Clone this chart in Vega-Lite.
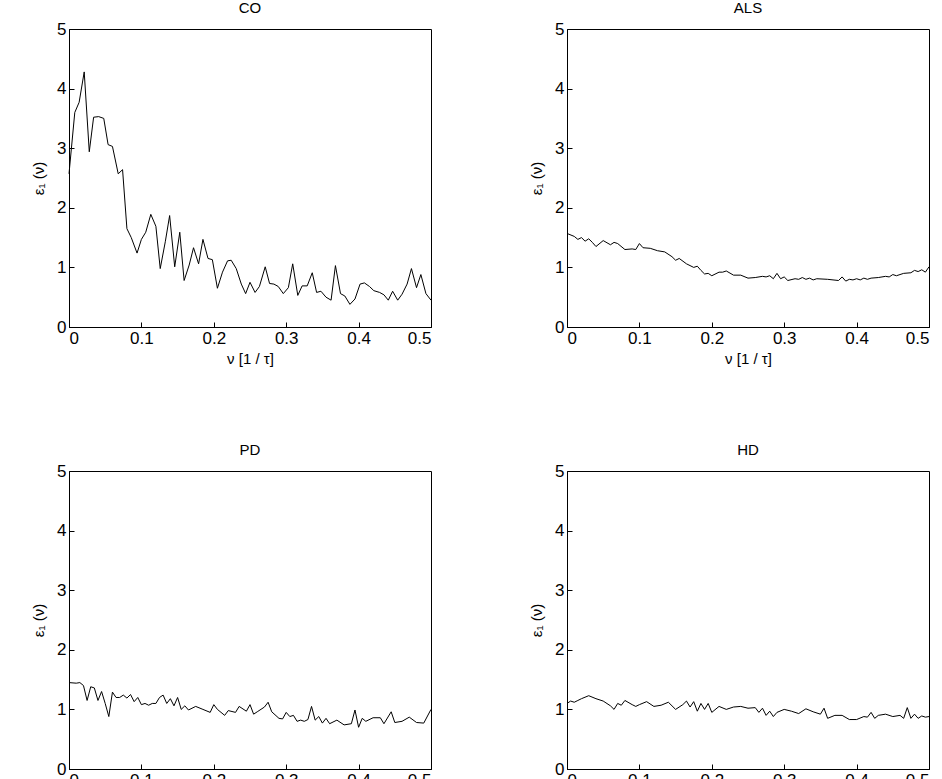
{
  "$schema": "https://vega.github.io/schema/vega-lite/v6.json",
  "padding": {"left": 31, "top": 0, "right": 0, "bottom": 0},
  "data": {
    "values": [
      {"p":"CO","x":0,"y":2.57},{"p":"CO","x":0.008,"y":3.6},{"p":"CO","x":0.014,"y":3.77},{"p":"CO","x":0.021,"y":4.28},{"p":"CO","x":0.028,"y":2.94},{"p":"CO","x":0.034,"y":3.52},{"p":"CO","x":0.041,"y":3.53},{"p":"CO","x":0.048,"y":3.5},{"p":"CO","x":0.054,"y":3.06},{"p":"CO","x":0.06,"y":3.03},{"p":"CO","x":0.068,"y":2.57},{"p":"CO","x":0.074,"y":2.64},{"p":"CO","x":0.08,"y":1.65},{"p":"CO","x":0.086,"y":1.5},{"p":"CO","x":0.094,"y":1.24},{"p":"CO","x":0.1,"y":1.47},{"p":"CO","x":0.106,"y":1.59},{"p":"CO","x":0.113,"y":1.89},{"p":"CO","x":0.12,"y":1.69},{"p":"CO","x":0.126,"y":0.98},{"p":"CO","x":0.133,"y":1.43},{"p":"CO","x":0.139,"y":1.87},{"p":"CO","x":0.146,"y":1.01},{"p":"CO","x":0.153,"y":1.59},{"p":"CO","x":0.159,"y":0.78},{"p":"CO","x":0.166,"y":1.04},{"p":"CO","x":0.172,"y":1.33},{"p":"CO","x":0.179,"y":1.06},{"p":"CO","x":0.185,"y":1.47},{"p":"CO","x":0.192,"y":1.15},{"p":"CO","x":0.198,"y":1.13},{"p":"CO","x":0.205,"y":0.65},{"p":"CO","x":0.212,"y":0.92},{"p":"CO","x":0.219,"y":1.11},{"p":"CO","x":0.224,"y":1.12},{"p":"CO","x":0.231,"y":0.98},{"p":"CO","x":0.238,"y":0.72},{"p":"CO","x":0.244,"y":0.56},{"p":"CO","x":0.25,"y":0.75},{"p":"CO","x":0.257,"y":0.58},{"p":"CO","x":0.263,"y":0.68},{"p":"CO","x":0.271,"y":1.01},{"p":"CO","x":0.277,"y":0.73},{"p":"CO","x":0.283,"y":0.72},{"p":"CO","x":0.289,"y":0.68},{"p":"CO","x":0.296,"y":0.56},{"p":"CO","x":0.303,"y":0.66},{"p":"CO","x":0.309,"y":1.06},{"p":"CO","x":0.316,"y":0.53},{"p":"CO","x":0.322,"y":0.69},{"p":"CO","x":0.329,"y":0.69},{"p":"CO","x":0.336,"y":0.91},{"p":"CO","x":0.342,"y":0.58},{"p":"CO","x":0.348,"y":0.6},{"p":"CO","x":0.355,"y":0.5},{"p":"CO","x":0.362,"y":0.45},{"p":"CO","x":0.368,"y":1.03},{"p":"CO","x":0.375,"y":0.56},{"p":"CO","x":0.381,"y":0.52},{"p":"CO","x":0.388,"y":0.38},{"p":"CO","x":0.395,"y":0.47},{"p":"CO","x":0.402,"y":0.72},{"p":"CO","x":0.408,"y":0.74},{"p":"CO","x":0.415,"y":0.68},{"p":"CO","x":0.421,"y":0.61},{"p":"CO","x":0.429,"y":0.58},{"p":"CO","x":0.435,"y":0.54},{"p":"CO","x":0.441,"y":0.45},{"p":"CO","x":0.447,"y":0.6},{"p":"CO","x":0.454,"y":0.45},{"p":"CO","x":0.46,"y":0.55},{"p":"CO","x":0.467,"y":0.72},{"p":"CO","x":0.473,"y":0.98},{"p":"CO","x":0.48,"y":0.66},{"p":"CO","x":0.486,"y":0.88},{"p":"CO","x":0.493,"y":0.56},{"p":"CO","x":0.5,"y":0.45},
      {"p":"ALS","x":0,"y":1.57},{"p":"ALS","x":0.01,"y":1.52},{"p":"ALS","x":0.015,"y":1.47},{"p":"ALS","x":0.02,"y":1.5},{"p":"ALS","x":0.025,"y":1.44},{"p":"ALS","x":0.03,"y":1.48},{"p":"ALS","x":0.035,"y":1.42},{"p":"ALS","x":0.04,"y":1.35},{"p":"ALS","x":0.05,"y":1.45},{"p":"ALS","x":0.06,"y":1.38},{"p":"ALS","x":0.065,"y":1.42},{"p":"ALS","x":0.07,"y":1.4},{"p":"ALS","x":0.08,"y":1.3},{"p":"ALS","x":0.09,"y":1.31},{"p":"ALS","x":0.095,"y":1.3},{"p":"ALS","x":0.1,"y":1.4},{"p":"ALS","x":0.105,"y":1.33},{"p":"ALS","x":0.115,"y":1.32},{"p":"ALS","x":0.125,"y":1.28},{"p":"ALS","x":0.135,"y":1.26},{"p":"ALS","x":0.145,"y":1.18},{"p":"ALS","x":0.15,"y":1.12},{"p":"ALS","x":0.155,"y":1.15},{"p":"ALS","x":0.165,"y":1.06},{"p":"ALS","x":0.175,"y":1.0},{"p":"ALS","x":0.18,"y":1.02},{"p":"ALS","x":0.185,"y":0.95},{"p":"ALS","x":0.19,"y":0.89},{"p":"ALS","x":0.195,"y":0.9},{"p":"ALS","x":0.2,"y":0.86},{"p":"ALS","x":0.21,"y":0.92},{"p":"ALS","x":0.215,"y":0.92},{"p":"ALS","x":0.22,"y":0.94},{"p":"ALS","x":0.23,"y":0.87},{"p":"ALS","x":0.24,"y":0.87},{"p":"ALS","x":0.25,"y":0.82},{"p":"ALS","x":0.26,"y":0.83},{"p":"ALS","x":0.27,"y":0.85},{"p":"ALS","x":0.275,"y":0.84},{"p":"ALS","x":0.28,"y":0.86},{"p":"ALS","x":0.285,"y":0.81},{"p":"ALS","x":0.29,"y":0.9},{"p":"ALS","x":0.295,"y":0.81},{"p":"ALS","x":0.3,"y":0.84},{"p":"ALS","x":0.305,"y":0.78},{"p":"ALS","x":0.315,"y":0.81},{"p":"ALS","x":0.32,"y":0.8},{"p":"ALS","x":0.325,"y":0.83},{"p":"ALS","x":0.33,"y":0.8},{"p":"ALS","x":0.335,"y":0.82},{"p":"ALS","x":0.34,"y":0.79},{"p":"ALS","x":0.345,"y":0.81},{"p":"ALS","x":0.36,"y":0.8},{"p":"ALS","x":0.375,"y":0.78},{"p":"ALS","x":0.38,"y":0.84},{"p":"ALS","x":0.385,"y":0.77},{"p":"ALS","x":0.39,"y":0.8},{"p":"ALS","x":0.395,"y":0.79},{"p":"ALS","x":0.4,"y":0.81},{"p":"ALS","x":0.405,"y":0.79},{"p":"ALS","x":0.41,"y":0.82},{"p":"ALS","x":0.415,"y":0.8},{"p":"ALS","x":0.42,"y":0.82},{"p":"ALS","x":0.43,"y":0.83},{"p":"ALS","x":0.44,"y":0.85},{"p":"ALS","x":0.445,"y":0.84},{"p":"ALS","x":0.45,"y":0.88},{"p":"ALS","x":0.455,"y":0.86},{"p":"ALS","x":0.465,"y":0.9},{"p":"ALS","x":0.475,"y":0.91},{"p":"ALS","x":0.48,"y":0.95},{"p":"ALS","x":0.485,"y":0.93},{"p":"ALS","x":0.49,"y":0.96},{"p":"ALS","x":0.495,"y":0.92},{"p":"ALS","x":0.5,"y":1.01},
      {"p":"PD","x":0,"y":1.45},{"p":"PD","x":0.01,"y":1.44},{"p":"PD","x":0.015,"y":1.45},{"p":"PD","x":0.02,"y":1.4},{"p":"PD","x":0.025,"y":1.15},{"p":"PD","x":0.03,"y":1.38},{"p":"PD","x":0.035,"y":1.36},{"p":"PD","x":0.04,"y":1.15},{"p":"PD","x":0.045,"y":1.3},{"p":"PD","x":0.05,"y":1.1},{"p":"PD","x":0.055,"y":0.88},{"p":"PD","x":0.06,"y":1.29},{"p":"PD","x":0.065,"y":1.2},{"p":"PD","x":0.07,"y":1.2},{"p":"PD","x":0.075,"y":1.24},{"p":"PD","x":0.08,"y":1.19},{"p":"PD","x":0.085,"y":1.25},{"p":"PD","x":0.09,"y":1.13},{"p":"PD","x":0.095,"y":1.2},{"p":"PD","x":0.1,"y":1.08},{"p":"PD","x":0.105,"y":1.1},{"p":"PD","x":0.11,"y":1.07},{"p":"PD","x":0.115,"y":1.1},{"p":"PD","x":0.12,"y":1.1},{"p":"PD","x":0.125,"y":1.2},{"p":"PD","x":0.13,"y":1.24},{"p":"PD","x":0.135,"y":1.1},{"p":"PD","x":0.14,"y":1.18},{"p":"PD","x":0.145,"y":1.06},{"p":"PD","x":0.15,"y":1.2},{"p":"PD","x":0.155,"y":1.0},{"p":"PD","x":0.16,"y":1.06},{"p":"PD","x":0.165,"y":0.99},{"p":"PD","x":0.175,"y":1.05},{"p":"PD","x":0.185,"y":1.0},{"p":"PD","x":0.195,"y":0.95},{"p":"PD","x":0.2,"y":1.08},{"p":"PD","x":0.205,"y":1.0},{"p":"PD","x":0.215,"y":0.9},{"p":"PD","x":0.22,"y":0.98},{"p":"PD","x":0.23,"y":0.95},{"p":"PD","x":0.235,"y":1.05},{"p":"PD","x":0.245,"y":0.97},{"p":"PD","x":0.25,"y":1.08},{"p":"PD","x":0.255,"y":0.92},{"p":"PD","x":0.26,"y":0.96},{"p":"PD","x":0.27,"y":1.04},{"p":"PD","x":0.275,"y":1.12},{"p":"PD","x":0.28,"y":0.96},{"p":"PD","x":0.29,"y":0.85},{"p":"PD","x":0.295,"y":0.84},{"p":"PD","x":0.3,"y":0.95},{"p":"PD","x":0.305,"y":0.88},{"p":"PD","x":0.31,"y":0.9},{"p":"PD","x":0.315,"y":0.8},{"p":"PD","x":0.32,"y":0.82},{"p":"PD","x":0.325,"y":0.8},{"p":"PD","x":0.33,"y":0.83},{"p":"PD","x":0.335,"y":1.05},{"p":"PD","x":0.34,"y":0.82},{"p":"PD","x":0.345,"y":0.88},{"p":"PD","x":0.35,"y":0.77},{"p":"PD","x":0.355,"y":0.85},{"p":"PD","x":0.36,"y":0.76},{"p":"PD","x":0.37,"y":0.82},{"p":"PD","x":0.38,"y":0.74},{"p":"PD","x":0.39,"y":0.76},{"p":"PD","x":0.395,"y":0.99},{"p":"PD","x":0.4,"y":0.7},{"p":"PD","x":0.405,"y":0.85},{"p":"PD","x":0.41,"y":0.8},{"p":"PD","x":0.42,"y":0.86},{"p":"PD","x":0.43,"y":0.86},{"p":"PD","x":0.435,"y":0.76},{"p":"PD","x":0.445,"y":0.96},{"p":"PD","x":0.45,"y":0.78},{"p":"PD","x":0.46,"y":0.8},{"p":"PD","x":0.47,"y":0.87},{"p":"PD","x":0.48,"y":0.78},{"p":"PD","x":0.49,"y":0.77},{"p":"PD","x":0.5,"y":1.0},
      {"p":"HD","x":0,"y":1.1},{"p":"HD","x":0.005,"y":1.14},{"p":"HD","x":0.01,"y":1.12},{"p":"HD","x":0.015,"y":1.15},{"p":"HD","x":0.02,"y":1.18},{"p":"HD","x":0.03,"y":1.23},{"p":"HD","x":0.04,"y":1.18},{"p":"HD","x":0.05,"y":1.14},{"p":"HD","x":0.06,"y":1.06},{"p":"HD","x":0.065,"y":1.0},{"p":"HD","x":0.07,"y":1.1},{"p":"HD","x":0.075,"y":1.07},{"p":"HD","x":0.08,"y":1.15},{"p":"HD","x":0.09,"y":1.08},{"p":"HD","x":0.095,"y":1.05},{"p":"HD","x":0.1,"y":1.08},{"p":"HD","x":0.11,"y":1.13},{"p":"HD","x":0.12,"y":1.05},{"p":"HD","x":0.13,"y":1.07},{"p":"HD","x":0.14,"y":1.12},{"p":"HD","x":0.15,"y":1.0},{"p":"HD","x":0.16,"y":1.08},{"p":"HD","x":0.165,"y":1.14},{"p":"HD","x":0.17,"y":1.04},{"p":"HD","x":0.175,"y":1.13},{"p":"HD","x":0.18,"y":0.97},{"p":"HD","x":0.185,"y":1.1},{"p":"HD","x":0.19,"y":1.0},{"p":"HD","x":0.195,"y":1.1},{"p":"HD","x":0.2,"y":0.95},{"p":"HD","x":0.21,"y":1.05},{"p":"HD","x":0.22,"y":1.0},{"p":"HD","x":0.23,"y":1.04},{"p":"HD","x":0.24,"y":1.05},{"p":"HD","x":0.25,"y":1.02},{"p":"HD","x":0.26,"y":1.03},{"p":"HD","x":0.265,"y":0.95},{"p":"HD","x":0.27,"y":1.02},{"p":"HD","x":0.275,"y":0.9},{"p":"HD","x":0.28,"y":0.97},{"p":"HD","x":0.285,"y":0.88},{"p":"HD","x":0.29,"y":0.95},{"p":"HD","x":0.3,"y":1.0},{"p":"HD","x":0.31,"y":0.97},{"p":"HD","x":0.32,"y":0.93},{"p":"HD","x":0.33,"y":1.01},{"p":"HD","x":0.34,"y":0.96},{"p":"HD","x":0.35,"y":0.92},{"p":"HD","x":0.355,"y":1.02},{"p":"HD","x":0.36,"y":0.85},{"p":"HD","x":0.37,"y":0.9},{"p":"HD","x":0.38,"y":0.9},{"p":"HD","x":0.39,"y":0.83},{"p":"HD","x":0.4,"y":0.83},{"p":"HD","x":0.41,"y":0.88},{"p":"HD","x":0.415,"y":0.87},{"p":"HD","x":0.42,"y":0.95},{"p":"HD","x":0.425,"y":0.85},{"p":"HD","x":0.43,"y":0.9},{"p":"HD","x":0.44,"y":0.92},{"p":"HD","x":0.45,"y":0.88},{"p":"HD","x":0.46,"y":0.9},{"p":"HD","x":0.465,"y":0.85},{"p":"HD","x":0.47,"y":1.03},{"p":"HD","x":0.475,"y":0.85},{"p":"HD","x":0.48,"y":0.92},{"p":"HD","x":0.485,"y":0.85},{"p":"HD","x":0.49,"y":0.89},{"p":"HD","x":0.495,"y":0.87},{"p":"HD","x":0.5,"y":0.88}
    ]
  },
  "facet": {
    "field": "p",
    "type": "nominal",
    "sort": ["CO", "ALS", "PD", "HD"],
    "title": null,
    "header": {"labelFont": "Liberation Sans", "labelFontSize": 15, "labelPadding": 4, "labelColor": "black"}
  },
  "columns": 2,
  "spacing": {"row": 75, "column": 95},
  "resolve": {"axis": {"x": "independent", "y": "independent"}},
  "spec": {
    "width": 362,
    "height": 298,
    "mark": {"type": "line", "color": "black", "strokeWidth": 1},
    "encoding": {
      "x": {"field": "x", "type": "quantitative", "title": "ν [1 / τ]",
        "scale": {"domain": [0, 0.5], "nice": false},
        "axis": {"values": [0, 0.1, 0.2, 0.3, 0.4, 0.5], "format": "~g", "grid": false}},
      "y": {"field": "y", "type": "quantitative", "title": "ε₁ (ν)",
        "scale": {"domain": [0, 5], "nice": false},
        "axis": {"values": [0, 1, 2, 3, 4, 5], "grid": false}}
    }
  },
  "config": {
    "font": "Liberation Sans",
    "view": {"stroke": "black", "strokeWidth": 1},
    "axis": {
      "domainColor": "black", "tickColor": "black", "tickSize": -5,
      "labelFontSize": 17, "labelColor": "black", "labelPadding": 8,
      "titleFontSize": 15, "titleFontWeight": "normal", "titleColor": "black"
    },
    "axisX": {"titlePadding": 5},
    "axisY": {"titlePadding": 10}
  }
}
